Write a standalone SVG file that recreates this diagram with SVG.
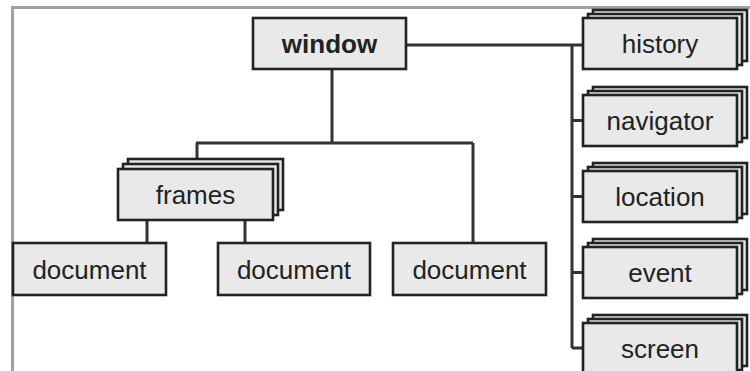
<svg xmlns="http://www.w3.org/2000/svg" width="750" height="371" viewBox="0 0 750 371">
<style>
.box{fill:#e9e9e9;stroke:#222;stroke-width:2.6}
.lbl{font-family:"Liberation Sans",Arial,sans-serif;font-size:26px;fill:#222;text-anchor:middle}
.b{font-weight:bold}
.con{fill:none;stroke:#333;stroke-width:3}
.frame{fill:none;stroke:#a0a0a0;stroke-width:3}
</style>
<rect width="750" height="371" fill="#fff"/>
<path class="frame" d="M12.5 371 V7.5 H750"/>
<g id="connectors">
<path class="con" d="M406 45 H583 M572 45 V348 M572 120.5 H583 M572 196.5 H583 M572 272.5 H583 M572 348 H583"/>
<path class="con" d="M332 69 V143 M196 143 H473 M197 143 V160 M473 143 V243 M147 220 V243 M245 220 V243"/>
</g>
<g id="window">
<rect class="box" x="253" y="18" width="153" height="51"/>
<text class="lbl b" x="329.5" y="53">window</text>
</g>
<g id="frames">
<rect class="box" x="128" y="159" width="155" height="51"/>
<rect class="box" x="123" y="164" width="155" height="51"/>
<rect class="box" x="118" y="169" width="155" height="51"/>
<text class="lbl" x="195.5" y="204">frames</text>
</g>
<g id="document1">
<rect class="box" x="13" y="243" width="153" height="52"/>
<text class="lbl" x="89.5" y="279">document</text>
</g>
<g id="document2">
<rect class="box" x="218" y="243" width="152" height="52"/>
<text class="lbl" x="294" y="279">document</text>
</g>
<g id="document3">
<rect class="box" x="393" y="243" width="153" height="52"/>
<text class="lbl" x="469.5" y="279">document</text>
</g>
<g id="history">
<rect class="box" x="593" y="10" width="154" height="51"/>
<rect class="box" x="588" y="14" width="154" height="51"/>
<rect class="box" x="583" y="18" width="154" height="51"/>
<text class="lbl" x="660" y="53">history</text>
</g>
<g id="navigator">
<rect class="box" x="593" y="87" width="154" height="51"/>
<rect class="box" x="588" y="91" width="154" height="51"/>
<rect class="box" x="583" y="95" width="154" height="51"/>
<text class="lbl" x="660" y="130">navigator</text>
</g>
<g id="location">
<rect class="box" x="593" y="163" width="154" height="51"/>
<rect class="box" x="588" y="167" width="154" height="51"/>
<rect class="box" x="583" y="171" width="154" height="51"/>
<text class="lbl" x="660" y="206">location</text>
</g>
<g id="event">
<rect class="box" x="593" y="239" width="154" height="51"/>
<rect class="box" x="588" y="243" width="154" height="51"/>
<rect class="box" x="583" y="247" width="154" height="51"/>
<text class="lbl" x="660" y="282">event</text>
</g>
<g id="screen">
<rect class="box" x="593" y="315" width="154" height="51"/>
<rect class="box" x="588" y="319" width="154" height="51"/>
<rect class="box" x="583" y="323" width="154" height="51"/>
<text class="lbl" x="660" y="358">screen</text>
</g>
</svg>
